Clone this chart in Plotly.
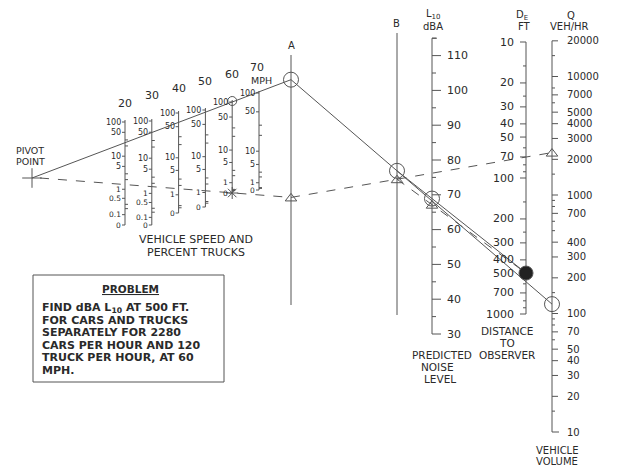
import numpy as np
import plotly.graph_objects as go

# ---------------- data ----------------
speeds_mph = [20, 30, 40, 50, 60, 70]
truck_car_ratio = [1000, 600, 150, 100, 60, 30]          # truck/car noise energy ratio per speed
pct_labels = {
    20: [100, 50, 10, 5, 1, 0.5, 0.1, 0],
    30: [100, 50, 10, 5, 1, 0.5, 0.1, 0],
    40: [100, 50, 10, 5, 1, 0],
    50: [100, 50, 10, 5, 1, 0],
    60: [100, 50, 10, 5, 1, 0],
    70: [100, 50, 10, 5, 1, 0],
}
pct_minor = [0.2, 0.3, 2, 3, 20, 30]
dba_labels = [110, 100, 90, 80, 70, 60, 50, 40, 30]
dba_minor = [35, 45, 55, 65, 75, 85, 95, 105, 115]
dist_labels = [10, 20, 30, 40, 50, 70, 100, 200, 300, 400, 500, 700, 1000]
dist_minor = [15, 25, 60, 80, 90, 150, 250, 600, 800, 900]
vol_labels = [20000, 10000, 7000, 5000, 4000, 3000, 2000, 1000, 700, 400, 300, 200,
              100, 70, 50, 40, 30, 20, 10]
vol_minor = [15000, 8000, 6000, 1500, 900, 800, 600, 500, 150, 90, 80, 60, 15]
problem_speed = 60
problem_distance = 500
problem_cars = 2280
problem_trucks = 120
problem_lines = ["FIND dBA L<sub>10</sub> AT 500 FT.", "FOR CARS AND TRUCKS",
                 "SEPARATELY FOR 2280", "CARS PER HOUR AND 120",
                 "TRUCK PER HOUR, AT 60", "MPH."]

# ---------------- geometry / styles ----------------
W, H = 617, 468
OFF = 8                      # page body margin
FONT = "DejaVu Sans"
INK = "#555555"
TXT = "#2a2a2a"
LW = 1

PIVOT = (32, 178)
X_A, X_B, X_DBA, X_D, X_Q = 291, 397, 432, 526, 552
SPEED_TOP = {20: 122, 30: 121, 40: 113, 50: 110, 60: 102, 70: 93}
SPEED_BOT = {20: 225, 30: 225, 40: 213, 50: 207, 60: 193, 70: 190}
ratio = dict(zip(speeds_mph, truck_car_ratio))


def speed_x(s):
    return 125 + (s - 20) * 2.68


def pct_y(s, p):
    r = ratio[s]
    f = np.log10(1 + (r - 1) * p / 100.0) / np.log10(r)
    return SPEED_BOT[s] - f * (SPEED_BOT[s] - SPEED_TOP[s])


def dba_y(L):
    return 334 - (L - 30) * 3.48


def dist_y(d):
    return 42 + 136 * np.log10(d / 10.0)


def vol_y(q):
    return 432 - 118.5 * np.log10(q / 10.0)


def at_x(p0, p1, x):
    return p0[1] + (p1[1] - p0[1]) * (x - p0[0]) / (p1[0] - p0[0])


traces = []
annotations = []


def segs(lst, width=LW, dash=None, color=INK):
    xs, ys = [], []
    for (x0, y0, x1, y1) in lst:
        xs += [x0, x1, None]
        ys += [y0, y1, None]
    traces.append(go.Scatter(x=xs, y=ys, mode="lines", hoverinfo="skip", showlegend=False,
                             line=dict(color=color, width=width, dash=dash)))


def txt(x, y, s, size=9, anchor="center", bold=False):
    if bold:
        s = "<b>" + s + "</b>"
    annotations.append(dict(x=x, y=y, xref="x", yref="y", text=s, showarrow=False,
                            xanchor=anchor, yanchor="middle", borderpad=0,
                            font=dict(family=FONT, size=size, color=TXT)))


def fmt(v):
    return ("%g" % v)


def marker(x, y, symbol, size, filled=False):
    traces.append(go.Scatter(x=[x], y=[y], mode="markers", hoverinfo="skip", showlegend=False,
                             marker=dict(symbol=symbol, size=size,
                                         color="#222" if filled else INK,
                                         line=dict(color=INK, width=1))))


# ---------------- speed / percent-truck scales ----------------
lines, ticks = [], []
for s in speeds_mph:
    x = speed_x(s)
    lines.append((x, SPEED_TOP[s] - 2, x, SPEED_BOT[s]))
    for p in pct_labels[s]:
        y = pct_y(s, p)
        ticks.append((x - 3, y, x, y))
        txt(x - 3, y, fmt(p), size=8 if p >= 5 else 7.5, anchor="right")
    for p in pct_minor:
        y = pct_y(s, p)
        ticks.append((x, y, x + 3, y))
    txt(x - (2 if s == 70 else 0), 103 - (s - 20) * 0.72, str(s), size=11)
txt(speed_x(70) + 2, 80, "MPH", size=9.5)
segs(lines)
segs(ticks)
txt(196, 239, "VEHICLE SPEED AND", size=11)
txt(196, 252, "PERCENT TRUCKS", size=11)

# pivot
marker(PIVOT[0], PIVOT[1], "cross-thin", 14)
txt(30, 150, "PIVOT", size=9.5)
txt(30, 161, "POINT", size=9.5)

# ---------------- A and B turning lines ----------------
segs([(X_A, 55, X_A, 305), (X_B, 33, X_B, 315)])
txt(X_A, 45, "A", size=10)
txt(X_B - 1, 23, "B", size=10)

# ---------------- dBA scale ----------------
segs([(X_DBA, dba_y(115), X_DBA, dba_y(30)),
      (X_DBA, dba_y(115), X_DBA + 5, dba_y(115)),
      (X_DBA, dba_y(30), X_DBA + 9, dba_y(30))])
segs([(X_DBA, dba_y(v), X_DBA + 9, dba_y(v)) for v in dba_labels[:-1]] +
     [(X_DBA, dba_y(v), X_DBA + 4, dba_y(v)) for v in dba_minor])
for v in dba_labels:
    txt(X_DBA + 14, dba_y(v), str(v), size=11, anchor="left")
txt(X_DBA + 1, 14, "L<sub>10</sub>", size=10)
txt(X_DBA + 1, 26, "dBA", size=10)
txt(442, 355, "PREDICTED", size=10.5)
txt(437, 367, "NOISE", size=10.5)
txt(440, 379, "LEVEL", size=10.5)

# ---------------- distance scale ----------------
segs([(X_D, dist_y(10), X_D, dist_y(1000)),
      (X_D - 6, dist_y(10), X_D, dist_y(10)),
      (X_D - 6, dist_y(1000), X_D, dist_y(1000))])
segs([(X_D - 6, dist_y(v), X_D, dist_y(v)) for v in dist_labels[1:-1]] +
     [(X_D - 3, dist_y(v), X_D, dist_y(v)) for v in dist_minor])
for v in dist_labels:
    txt(X_D - 11, dist_y(v), str(v), size=11, anchor="right")
txt(X_D - 4, 15, "D<sub>E</sub>", size=10)
txt(X_D - 2, 26, "FT", size=10)
txt(507, 331, "DISTANCE", size=10.5)
txt(507, 343, "TO", size=10.5)
txt(507, 355, "OBSERVER", size=10.5)

# ---------------- volume scale ----------------
segs([(X_Q, vol_y(20000), X_Q, vol_y(10)),
      (X_Q, vol_y(20000), X_Q + 6, vol_y(20000)),
      (X_Q, vol_y(10), X_Q + 7, vol_y(10))])
segs([(X_Q, vol_y(v), X_Q + 6, vol_y(v)) for v in vol_labels[1:-1]] +
     [(X_Q, vol_y(v), X_Q + 3, vol_y(v)) for v in vol_minor])
for v in vol_labels:
    txt(X_Q + 14, vol_y(v), str(v), size=10, anchor="left")
txt(571, 15, "Q", size=10)
txt(569, 26, "VEH/HR", size=10)
txt(557, 450, "VEHICLE", size=10)
txt(557, 461, "VOLUME", size=10)

# ---------------- solution lines ----------------
p_truck = (speed_x(problem_speed), pct_y(problem_speed, 100))
p_car = (speed_x(problem_speed), pct_y(problem_speed, 0))
A_c = (X_A, at_x(PIVOT, p_truck, X_A))
A_t = (X_A, at_x(PIVOT, p_car, X_A))
Q_c = (X_Q, vol_y(problem_trucks))
Q_t = (X_Q, vol_y(problem_cars))
B_c = (X_B, at_x(A_c, Q_c, X_B))
B_t = (X_B, at_x(A_t, Q_t, X_B))
D_p = (X_D, dist_y(problem_distance))
L_c = (X_DBA, at_x(B_c, D_p, X_DBA))
L_t = (X_DBA, at_x(B_t, D_p, X_DBA))

segs([(PIVOT[0], PIVOT[1], A_c[0], A_c[1]), (A_c[0], A_c[1], Q_c[0], Q_c[1]),
      (B_c[0], B_c[1], D_p[0], D_p[1])], width=1)
segs([(PIVOT[0] + 8, PIVOT[1], A_t[0], A_t[1]), (A_t[0], A_t[1], Q_t[0], Q_t[1]),
      (B_t[0], B_t[1], D_p[0], D_p[1])], width=1, dash="dash")

for pt in (A_c, B_c, L_c, Q_c):
    marker(pt[0], pt[1], "circle-open", 15)
for pt in (A_t, B_t, L_t, Q_t):
    marker(pt[0], pt[1] + 1, "triangle-up-open", 10)
marker(D_p[0], D_p[1], "circle", 14, filled=True)
marker(p_truck[0], p_truck[1] - 1, "circle-open", 9)
marker(p_car[0], p_car[1], "asterisk-open", 10)

# ---------------- problem box ----------------
box = dict(type="rect", xref="x", yref="y", x0=33, y0=275, x1=224, y1=382,
           line=dict(color=INK, width=1))
txt(130, 289, "<u>PROBLEM</u>", size=10.5, bold=True)
for i, line in enumerate(problem_lines):
    txt(41, 308 + i * 12.4, line, size=11, anchor="left", bold=True)

fig = go.Figure(traces)
fig.update_layout(
    width=W - OFF, height=H - OFF, margin=dict(l=0, r=0, t=0, b=0),
    paper_bgcolor="white", plot_bgcolor="white",
    xaxis=dict(range=[OFF, W], visible=False, fixedrange=True),
    yaxis=dict(range=[H, OFF], visible=False, fixedrange=True),
    annotations=annotations, shapes=[box], showlegend=False,
)
fig.write_html("out.html")
